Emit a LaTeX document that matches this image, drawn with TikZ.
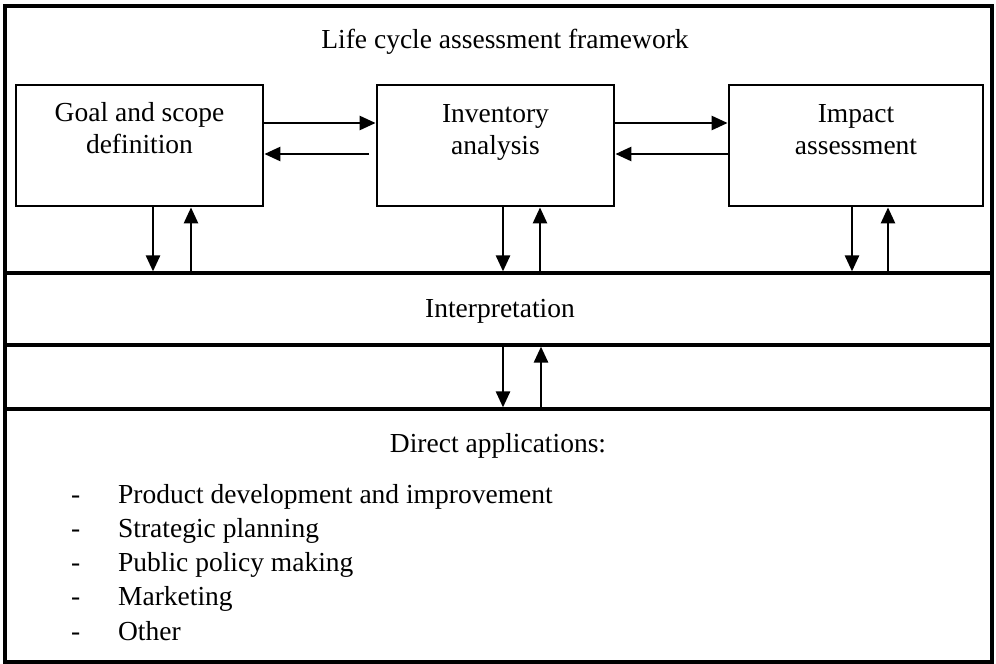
\documentclass[tikz,border=0pt]{standalone}
\usepackage{fontspec}
\setmainfont{Liberation Serif}
\usetikzlibrary{arrows.meta}
\newcommand\twoline[2]{{\setlength\tabcolsep{0pt}\begin{tabular}[t]{c}#1\\#2\end{tabular}}}
\begin{document}
\begin{tikzpicture}[x=1pt,y=-1pt,
  txt/.style={font=\fontsize{27.5}{32}\selectfont, inner sep=0pt, anchor=base},
  listtxt/.style={font=\fontsize{27.5}{34.3}\selectfont, inner sep=0pt, anchor=base west},
  frame/.style={draw, line width=3.2pt, inner sep=0pt},
  band/.style={draw, line width=3.2pt, inner sep=0pt},
  box/.style={draw, line width=2.8pt, inner sep=0pt},
  arr/.style={line width=2.6pt, -{Triangle[length=16pt,width=14pt]}}]
\useasboundingbox (0,0) rectangle (996,664);
% outer frame
\node[frame, minimum width=987pt, minimum height=656pt] (frame) at (498.5,334) {};
% bands
\node[band, minimum width=987pt, minimum height=72pt] (interp) at (498.5,309) {};
\node[band, minimum width=987pt, minimum height=253pt] (direct) at (498.5,535.5) {};
% boxes
\node[box, minimum width=247pt, minimum height=121pt] (goal) at (139.5,145.5) {};
\node[box, minimum width=237pt, minimum height=121pt] (inv) at (495.5,145.5) {};
\node[box, minimum width=254pt, minimum height=121pt] (imp) at (856,145.5) {};
% texts
\node[txt] (title) at (505,48) {Life cycle assessment framework};
\node[txt] (goalt) at (139.5,121) {\twoline{Goal and scope}{definition}};
\node[txt] (invt) at (495.5,122) {\twoline{Inventory}{analysis}};
\node[txt] (impt) at (856,122) {\twoline{Impact}{assessment}};
\node[txt] (interpt) at (500,317) {Interpretation};
\node[txt] (directt) at (498,452) {Direct applications:};
\node[listtxt] (list) at (71,503) {{\setlength\tabcolsep{0pt}\begin{tabular}[t]{l@{\hspace{37.8pt}}l}
-&Product development and improvement\\
-&Strategic planning\\
-&Public policy making\\
-&Marketing\\
-&Other
\end{tabular}}};
% helper coordinates
\coordinate (yu) at (0,123);
\coordinate (yl) at (0,154);
\coordinate (gret) at (369,154);
\coordinate (xgd) at (153,0);
\coordinate (xgu) at (191,0);
\coordinate (xid) at (503,0);
\coordinate (xiu) at (540,0);
\coordinate (xmd) at (852,0);
\coordinate (xmu) at (888,0);
\coordinate (xdd) at (503,0);
\coordinate (xdu) at (541,0);
% horizontal arrows
\draw[arr] (goal.east |- yu) -- (inv.west |- yu);
\draw[arr] (gret |- yl) -- (goal.east |- yl);
\draw[arr] (inv.east |- yu) -- (imp.west |- yu);
\draw[arr] (imp.west |- yl) -- (inv.east |- yl);
% vertical arrows boxes <-> interpretation
\draw[arr] (goal.south -| xgd) -- (interp.north -| xgd);
\draw[arr] (interp.north -| xgu) -- (goal.south -| xgu);
\draw[arr] (inv.south -| xid) -- (interp.north -| xid);
\draw[arr] (interp.north -| xiu) -- (inv.south -| xiu);
\draw[arr] (imp.south -| xmd) -- (interp.north -| xmd);
\draw[arr] (interp.north -| xmu) -- (imp.south -| xmu);
% interpretation <-> direct applications
\draw[arr] (interp.south -| xdd) -- (direct.north -| xdd);
\draw[arr] (direct.north -| xdu) -- (interp.south -| xdu);
\end{tikzpicture}
\end{document}
